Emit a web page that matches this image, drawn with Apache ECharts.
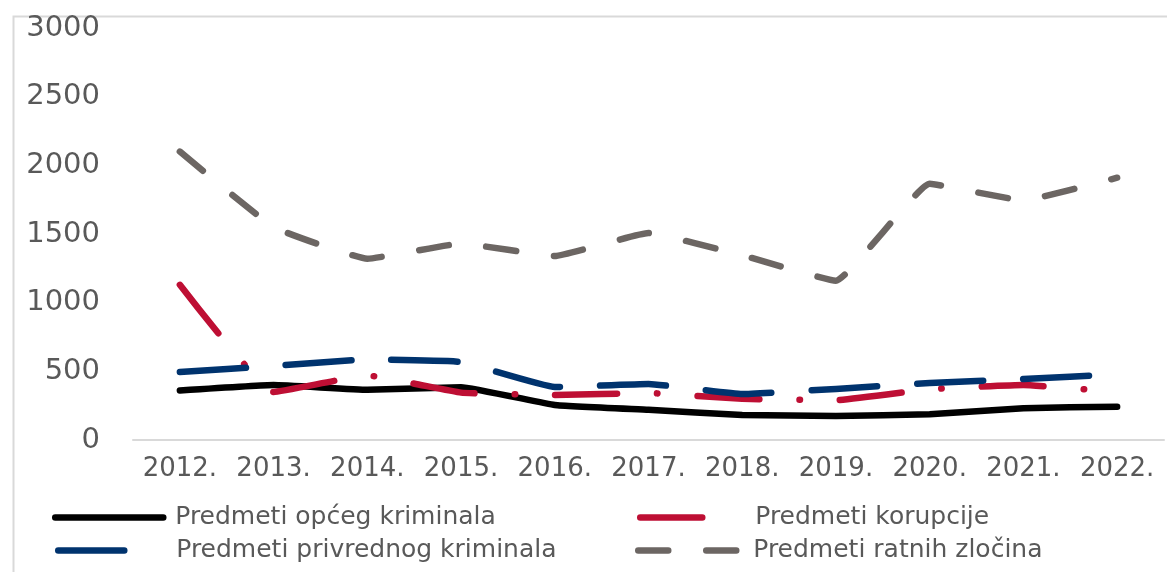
<!DOCTYPE html>
<html>
<head>
<meta charset="utf-8">
<script src="https://cdn.jsdelivr.net/npm/echarts@6/dist/echarts.min.js"></script>
<style>
  html, body { margin: 0; padding: 0; background: #fff; }
  #chart { width: 1167px; height: 572px; }
</style>
</head>
<body>
<div id="chart"></div>
<script>
  // godine
  const years = ['2012.', '2013.', '2014.', '2015.', '2016.', '2017.', '2018.', '2019.', '2020.', '2021.', '2022.'];
  const yTicks = [0, 500, 1000, 1500, 2000, 2500, 3000];

  const opciKriminal = [360, 400, 365, 385, 255, 220, 182, 175, 188, 232, 242];
  const korupcija = [1130, 350, 470, 345, 328, 342, 300, 290, 370, 400, 350];
  const privredniKriminal = [495, 540, 586, 568, 386, 408, 335, 372, 415, 444, 478];
  const ratniZlocini = [2100, 1550, 1320, 1430, 1340, 1507, 1345, 1160, 1865, 1745, 1910];

  const names = ['Predmeti općeg kriminala', 'Predmeti korupcije', 'Predmeti privrednog kriminala', 'Predmeti ratnih zločina'];
  const colors = ['#000000', '#be0f34', '#00336e', '#6c6663'];
  const dashes = ['solid', [62, 40, 0.5, 40], [66, 40], [30, 38]];

  const txt = '#595959';
  const font = 'DejaVu Sans';

  function line(i, data) {
    return {
      name: names[i],
      type: 'line',
      data: data,
      symbol: 'none',
      smooth: 0.1,
      lineStyle: { color: colors[i], width: 6.5, type: dashes[i], cap: 'round', join: 'round' },
      itemStyle: { color: colors[i] }
    };
  }

  // legenda: svaka stavka posebno da bi stala kao u originalu
  function leg(i, left, top, width, pad) {
    return {
      data: [names[i]],
      left: left,
      top: top,
      itemWidth: width,
      itemHeight: 14,
      selectedMode: false,
      itemStyle: { opacity: 0 },
      lineStyle: { width: 6.5, type: dashes[i], cap: 'round', color: colors[i] },
      textStyle: { color: txt, fontFamily: font, fontSize: 25, padding: [0, 0, 0, pad] }
    };
  }

  const chart = echarts.init(document.getElementById('chart'));
  chart.setOption({
    animation: false,
    backgroundColor: '#fff',
    graphic: [{
      type: 'rect',
      left: 11, top: 14,
      shape: { width: 1300, height: 700 },
      style: { fill: 'none', stroke: '#d9d9d9', lineWidth: 2 }
    }],
    grid: { left: 133, right: 3, top: 28, bottom: 132 },
    xAxis: {
      type: 'category',
      data: years,
      axisTick: { show: false },
      axisLine: { lineStyle: { color: '#d9d9d9', width: 2 } },
      axisLabel: { color: txt, fontFamily: font, fontSize: 26, margin: 16, interval: 0 }
    },
    yAxis: {
      type: 'value',
      min: yTicks[0],
      max: yTicks[yTicks.length - 1],
      interval: 500,
      splitLine: { show: false },
      axisLabel: { color: txt, fontFamily: font, fontSize: 29, margin: 33, formatter: v => String(v) }
    },
    legend: [
      leg(0, 47, 500, 108, 7),
      leg(1, 632, 500, 70, 40),
      leg(2, 50, 533, 74, 39),
      leg(3, 630, 533, 104, 6)
    ],
    series: [
      line(0, opciKriminal),
      line(1, korupcija),
      line(2, privredniKriminal),
      line(3, ratniZlocini)
    ]
  });
</script>
</body>
</html>
